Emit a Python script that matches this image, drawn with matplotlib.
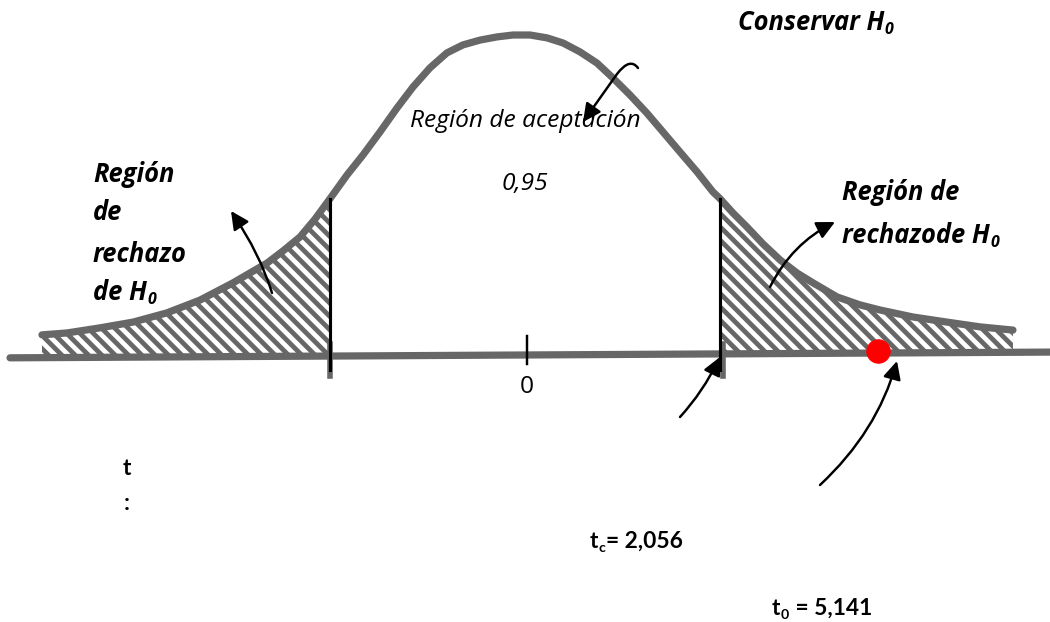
import matplotlib
matplotlib.use("Agg")
import matplotlib.pyplot as plt
import numpy as np
from matplotlib.patches import FancyArrowPatch
from matplotlib.path import Path
from matplotlib.transforms import Affine2D

# ---------------- data (schematic curve) ----------------
curve_t = [-5.093, -4.829, -4.481, -4.133, -3.775, -3.427, -3.079, -2.900, -2.720,
           -2.552, -2.372, -2.214, -2.056, -1.877, -1.708, -1.529, -1.350, -1.181,
           -1.002, -0.823, -0.654, -0.475, -0.295, -0.127, 0.053, 0.232, 0.401,
           0.580, 0.759, 0.928, 1.107, 1.286, 1.455, 1.635, 1.814, 1.982, 2.056,
           2.193, 2.341, 2.510, 2.689, 2.868, 3.037, 3.290, 3.532, 3.743, 4.091,
           4.450, 4.798, 5.145]
curve_h = [0.060, 0.066, 0.082, 0.100, 0.129, 0.169, 0.223, 0.254, 0.285,
           0.323, 0.367, 0.423, 0.487, 0.561, 0.624, 0.696, 0.771, 0.837,
           0.897, 0.944, 0.969, 0.984, 0.994, 1.000, 1.000, 0.991, 0.975,
           0.947, 0.912, 0.865, 0.812, 0.755, 0.696, 0.633, 0.571, 0.508, 0.487,
           0.442, 0.398, 0.345, 0.295, 0.254, 0.223, 0.179, 0.154, 0.138, 0.116,
           0.100, 0.085, 0.075]
baseline_t = [-5.43, 5.54]
baseline_h = [-0.012, 0.006]
t_crit = 2.056          # critical value
t_obs = 5.141           # observed statistic
t_obs_drawn = 3.72      # where the point is drawn on the schematic axis
accept_prob = "0,95"

GREY = "#676767"
DPI = 80
W, H = 1050, 622

plt.rcParams["font.family"] = ["Open Sans", "DejaVu Sans"]
plt.rcParams["hatch.linewidth"] = 4.3
plt.rcParams["hatch.color"] = GREY

fig = plt.figure(figsize=(W / DPI, H / DPI), dpi=DPI)
ax = fig.add_axes([0, 0, 1, 1])
ax.set_xlim(-525 / 94.84, 525 / 94.84)
ax.set_ylim((354 - 622) / 319, 354 / 319)
ax.axis("off")

ct = np.array(curve_t)
ch = np.array(curve_h)

# hatched rejection regions
for mask in (ct <= -t_crit, ct >= t_crit):
    ax.fill_between(ct[mask], 0, ch[mask], facecolor="white", edgecolor=GREY,
                    hatch="\\\\", linewidth=0, zorder=1)

# axis line and curve
ax.plot(baseline_t, baseline_h, color=GREY, lw=6.5, solid_capstyle="round", zorder=2)
ax.plot(ct, ch, color=GREY, lw=6.5, solid_capstyle="round", solid_joinstyle="round", zorder=3)

# critical lines
for tc in (-t_crit, t_crit):
    off = 0.03 if tc > 0 else 0.0
    ax.plot([tc + off, tc + off], [0.03, -0.07], color=GREY, lw=5, zorder=3)
    ax.plot([tc, tc], [ch[np.isclose(ct, tc)][0], -0.05], color="black", lw=2.8, zorder=4)

# tick at 0
ax.plot([0.02, 0.02], [0.056, -0.031], color="black", lw=2.2, zorder=4)

# observed point
ax.plot([t_obs_drawn], [0.01], "o", color="#ff0000", markersize=21, zorder=5)

# ---------------- annotations in image-pixel coordinates ----------------
PX = Affine2D().scale(1 / W, -1 / H).translate(0, 1) + ax.transAxes

def txt(x, y, s, **kw):
    return ax.text(x, y, s, transform=PX, va="baseline", color="black", **kw)

def after(prev, base, s, dy=0.0, **kw):
    """text continuing right after `prev`, aligned on the line of `base`"""
    return ax.annotate(s, xy=(1, 0), xycoords=(prev, base), xytext=(0.5, dy),
                       textcoords="offset points", va="bottom", color="black", **kw)

FSB = 23
FSI = 22
bi = dict(fontsize=FSB, fontweight="bold", fontstyle="italic", family=["Open Sans", "DejaVu Sans"])
bi_sub = dict(bi, fontsize=FSB * 0.62)
up = dict(fontsize=20.5, fontweight="bold", family=["Lato", "DejaVu Sans"])
up_sub = dict(up, fontsize=20.5 * 0.62)

txt(93, 182, "Región", **bi)
txt(93, 220, "de", **bi)
txt(93, 262, "rechazo", **bi)
a = txt(93, 300, "de H", **bi)
after(a, a, "0", dy=-1.5, **bi_sub)
txt(842, 200, "Región de", **bi)
a = txt(842, 243, "rechazode H", **bi)
after(a, a, "0", dy=-1.5, **bi_sub)
a = txt(738, 30, "Conservar H", **bi)
after(a, a, "0", dy=-1.5, **bi_sub)

txt(525, 127, "Región de aceptación", fontsize=FSI, fontstyle="italic", ha="center")
txt(525, 190, accept_prob, fontsize=FSI, fontstyle="italic", ha="center")
txt(527, 393, "0", fontsize=FSI, ha="center")

txt(123, 475, "t", **up)
txt(127, 510, ":", ha="center", **up)
a = txt(590, 548, "t", **up)
b = after(a, a, "c", dy=-2.0, **up_sub)
after(b, a, "= " + f"{t_crit:.3f}".replace(".", ","), dy=0, **up)
a = txt(772, 615, "t", **up)
b = after(a, a, "0", dy=-2.0, **up_sub)
after(b, a, " = " + f"{t_obs:.3f}".replace(".", ","), dy=0, **up)

def arrow(verts, codes):
    p = FancyArrowPatch(path=Path(verts, codes), transform=PX,
                        arrowstyle="-|>,head_length=0.85,head_width=0.42",
                        mutation_scale=16, color="black", lw=2.2, zorder=6)
    ax.add_patch(p)

Q = [Path.MOVETO, Path.CURVE3, Path.CURVE3]
arrow([(272, 293), (260.5, 254.7), (231, 211)], Q)
arrow([(770, 287), (791.7, 243.7), (835, 222)], Q)
arrow([(680, 417), (703, 392), (720, 357)], Q)
arrow([(820, 485), (877, 432), (897, 361)], Q)
arrow([(638, 68), (630, 57), (617, 74), (583, 122)],
      [Path.MOVETO, Path.CURVE3, Path.CURVE3, Path.LINETO])

fig.savefig("out.png", dpi=DPI, facecolor="white")
